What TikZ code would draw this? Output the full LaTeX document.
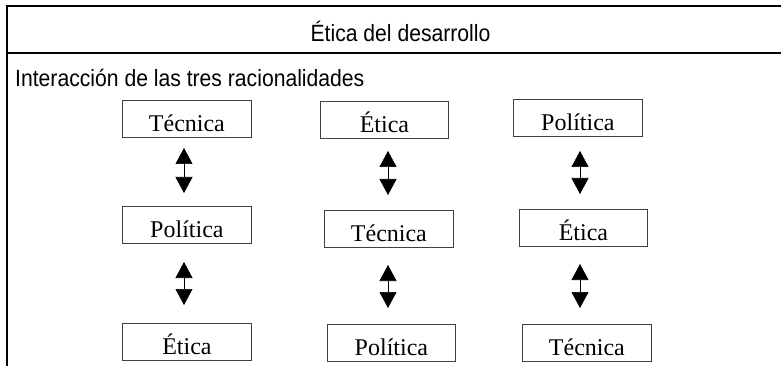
\documentclass[tikz,border=0pt]{standalone}
\usepackage{fontspec}
\newfontfamily\narrowsans[FakeStretch=0.9]{Liberation Sans}
\newfontfamily\boxserif{Liberation Serif}
\usetikzlibrary{arrows.meta}
\begin{document}
\begin{tikzpicture}[x=1pt,y=-1pt,
  frameline/.style={line width=1.2pt,black},
  rbox/.style={draw=black!75,line width=0.8pt,anchor=north west,inner xsep=0pt,inner ysep=0pt,
    minimum width=129pt,text height=31pt,text depth=6pt,font=\boxserif\fontsize{24}{28}\selectfont,align=center},
  dbl/.style={line width=0.7pt,black,{Triangle[width=17pt,length=16pt]}-{Triangle[width=17pt,length=16pt]}},
  headtext/.style={inner sep=0pt,font=\narrowsans\fontsize{23.5}{28}\selectfont}
]
\useasboundingbox (0,0) rectangle (781,366);
% frame
\coordinate (ftl) at (7,6);
\coordinate (ftr) at (781,6);
\coordinate (fbl) at (7,366);
\coordinate (fml) at (7,53);
\coordinate (fmr) at (781,53);
\draw[frameline] (ftr) -- (ftl) -- (fbl);
\draw[frameline] (fml) -- (fmr);
% texts
\node[headtext,anchor=base] (title) at (400.5,42) {Ética del desarrollo};
\node[headtext,anchor=base west] (sub) at (15,87) {Interacción de las tres racionalidades};
% column 1
\node[rbox] (a1) at (122,100) {Técnica};
\node[rbox] (a2) at (122,206) {Política};
\node[rbox] (a3) at (122,323) {Ética};
% column 2
\node[rbox,minimum width=128pt] (b1) at (320,101) {Ética};
\node[rbox] (b2) at (324,210) {Técnica};
\node[rbox,minimum width=128pt] (b3) at (327,324) {Política};
% column 3
\node[rbox] (c1) at (513,99) {Política};
\node[rbox,minimum width=128pt] (c2) at (519,209) {Ética};
\node[rbox] (c3) at (522,324) {Técnica};
% arrow ends
\coordinate (a12t) at (184,148); \coordinate (a12b) at (184,193);
\coordinate (a23t) at (184,262); \coordinate (a23b) at (184,305);
\coordinate (b12t) at (388,151); \coordinate (b12b) at (388,195);
\coordinate (b23t) at (388,265); \coordinate (b23b) at (388,308);
\coordinate (c12t) at (580,151); \coordinate (c12b) at (580,194);
\coordinate (c23t) at (580,264); \coordinate (c23b) at (580,308);
\draw[dbl] (a12t) -- (a12b);
\draw[dbl] (a23t) -- (a23b);
\draw[dbl] (b12t) -- (b12b);
\draw[dbl] (b23t) -- (b23b);
\draw[dbl] (c12t) -- (c12b);
\draw[dbl] (c23t) -- (c23b);
\end{tikzpicture}
\end{document}
